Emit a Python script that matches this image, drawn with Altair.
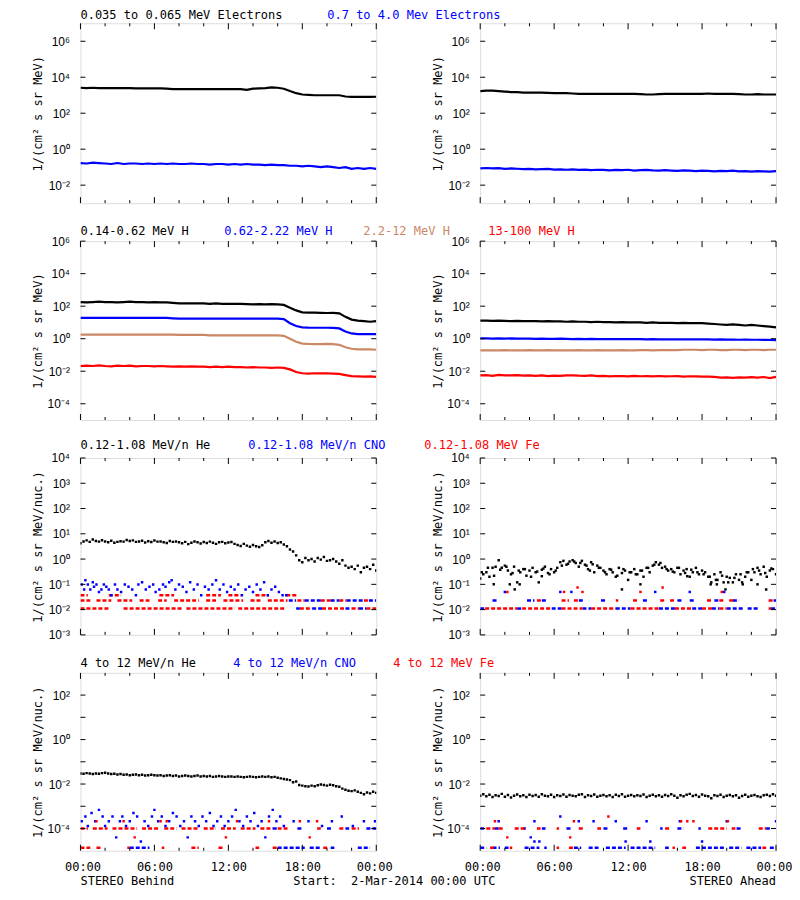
import altair as alt
import pandas as pd

# ---------------------------------------------------------------- data
# 30-minute samples, 00:00 .. 24:00 (49 values)
E_LO_BEHIND = [2.6e3,2.5e3,2.6e3,2.5e3,2.5e3,2.5e3,2.5e3,2.5e3,2.5e3,2.4e3,
               2.4e3,2.4e3,2.4e3,2.4e3,2.3e3,2.2e3,2.2e3,2.2e3,2.2e3,2.2e3,
               2.2e3,2.2e3,2.2e3,2.2e3,2.2e3,2.2e3,2.2e3,2.0e3,2.3e3,2.4e3,
               2.5e3,2.7e3,2.6e3,2.3e3,1.7e3,1.3e3,1.1e3,1.05e3,1.0e3,1.0e3,
               1.0e3,1.0e3,1.0e3,8.5e2,8.0e2,8.0e2,8.0e2,8.0e2,8.2e2]
E_HI_BEHIND = [0.17,0.16,0.18,0.17,0.16,0.15,0.17,0.15,0.16,0.16,
               0.15,0.16,0.15,0.16,0.15,0.16,0.15,0.15,0.16,0.15,
               0.15,0.14,0.15,0.15,0.14,0.15,0.14,0.15,0.14,0.14,
               0.13,0.14,0.13,0.13,0.12,0.12,0.11,0.12,0.11,0.10,
               0.11,0.10,0.09,0.10,0.08,0.09,0.08,0.09,0.08]
E_LO_AHEAD = [1.7e3,1.8e3,1.8e3,1.7e3,1.6e3,1.5e3,1.5e3,1.4e3,1.4e3,1.4e3,
              1.4e3,1.35e3,1.3e3,1.3e3,1.3e3,1.25e3,1.2e3,1.2e3,1.2e3,1.2e3,
              1.2e3,1.2e3,1.2e3,1.2e3,1.2e3,1.2e3,1.15e3,1.1e3,1.1e3,1.15e3,
              1.2e3,1.2e3,1.2e3,1.2e3,1.2e3,1.2e3,1.2e3,1.25e3,1.2e3,1.2e3,
              1.2e3,1.2e3,1.15e3,1.1e3,1.1e3,1.15e3,1.1e3,1.1e3,1.1e3]
E_HI_AHEAD = [0.085,0.09,0.085,0.088,0.08,0.085,0.082,0.078,0.08,0.075,
              0.078,0.08,0.074,0.076,0.072,0.075,0.07,0.073,0.068,0.072,
              0.07,0.066,0.07,0.068,0.072,0.065,0.068,0.07,0.066,0.064,
              0.068,0.065,0.062,0.066,0.064,0.06,0.064,0.062,0.058,0.062,
              0.06,0.064,0.058,0.06,0.056,0.06,0.058,0.056,0.06]

H1_BEHIND = [180,170,180,190,180,180,170,180,190,180,
             180,170,180,170,170,160,150,150,150,150,
             150,140,150,140,140,140,140,135,130,135,
             130,135,130,120,80,55,42,40,40,39,
             38,39,36,22,15,13,12,11,12]
H2_BEHIND = [19,19,19,19,19,19,19,19,19,19,
             19,19,19,19,19,18,17,17,17,17,
             17,17,17,17,17,17,17,17,17,17,
             17,17,17,16,9,6,5,4.8,4.7,4.7,
             4.7,4.6,4.3,2.8,2.1,1.9,1.9,1.9,1.9]
H3_BEHIND = [1.8,1.8,1.8,1.8,1.8,1.8,1.8,1.8,1.8,1.8,
             1.8,1.8,1.8,1.8,1.8,1.8,1.7,1.7,1.7,1.7,
             1.7,1.6,1.6,1.6,1.6,1.6,1.6,1.6,1.6,1.6,
             1.6,1.6,1.6,1.5,1.0,0.65,0.5,0.48,0.47,0.47,
             0.48,0.47,0.42,0.3,0.24,0.22,0.22,0.22,0.21]
H4_BEHIND = [0.021,0.022,0.021,0.023,0.021,0.020,0.022,0.021,0.022,0.020,
             0.021,0.021,0.020,0.021,0.020,0.019,0.020,0.019,0.020,0.019,
             0.019,0.018,0.019,0.018,0.019,0.018,0.018,0.017,0.018,0.017,
             0.017,0.016,0.017,0.016,0.013,0.009,0.0075,0.0072,0.0075,0.0073,
             0.0075,0.0072,0.0068,0.0058,0.005,0.0048,0.0046,0.0048,0.0045]
H1_AHEAD = [13,13,12.5,13,12.5,12,12.5,12,12,12,
            11.5,12,11.5,11.5,11,11.5,11,11,10.5,11,
            10.5,10.5,10,10.5,10,10,10,9.5,10,9.5,
            9.5,9.5,9,9.5,9,9,9,8.5,8,7.5,
            7,7.5,7,6.5,7,6.5,6,5.5,5]
H2_AHEAD = [1.05,1.05,1.0,1.05,1.0,1.05,1.0,1.0,1.0,0.98,
            1.0,0.98,0.98,1.0,0.98,0.95,0.98,0.95,0.98,0.95,
            0.95,0.95,0.93,0.95,0.93,0.95,0.93,0.92,0.93,0.92,
            0.92,0.9,0.92,0.9,0.92,0.9,0.9,0.9,0.88,0.9,
            0.88,0.88,0.86,0.88,0.86,0.86,0.85,0.84,0.82]
H3_AHEAD = [0.19,0.19,0.19,0.19,0.2,0.19,0.19,0.19,0.2,0.19,
            0.19,0.2,0.19,0.19,0.19,0.19,0.2,0.19,0.19,0.2,
            0.19,0.19,0.19,0.2,0.19,0.19,0.2,0.2,0.19,0.2,
            0.2,0.2,0.2,0.21,0.21,0.21,0.2,0.21,0.21,0.2,
            0.2,0.21,0.21,0.2,0.21,0.21,0.2,0.21,0.21]
H4_AHEAD = [0.0055,0.0058,0.0052,0.006,0.0056,0.0055,0.0058,0.0054,0.0056,0.0052,
            0.0055,0.005,0.0054,0.0052,0.0055,0.0056,0.0053,0.0052,0.0055,0.005,
            0.0052,0.0048,0.0051,0.005,0.0048,0.0052,0.0049,0.005,0.0048,0.0051,
            0.0048,0.0049,0.005,0.0047,0.0049,0.0048,0.0046,0.0047,0.0045,0.004,
            0.0042,0.0039,0.0042,0.004,0.0043,0.0041,0.0044,0.0038,0.0045]

# 15-minute samples, 00:00 .. 24:00 (97 values)
HE_LOW_BEHIND = [4.2,5.0,5.5,4.8,6.0,5.2,4.9,5.6,5.0,4.6,5.3,4.4,4.8,5.1,4.9,5.7,5.2,5.5,4.8,5.0,
                 5.3,4.5,5.1,4.7,5.4,4.9,5.0,4.6,4.3,5.2,4.8,5.0,4.6,4.2,4.8,3.9,4.4,5.0,4.6,4.1,
                 4.7,4.3,4.9,4.4,4.0,4.6,4.8,4.2,4.5,
                 4.7,4.0,3.6,3.3,4.0,3.4,3.1,3.6,3.2,3.0,3.5,4.6,5.2,4.4,5.0,4.3,4.6,3.8,
                 3.2,2.4,2.0,1.4,0.9,0.75,1.1,0.9,1.0,0.8,1.1,0.95,1.2,0.85,0.9,
                 1.0,0.8,0.65,0.9,0.55,0.45,0.5,0.4,0.55,0.3,0.45,0.5,0.4,0.6,0.35]
HE_LOW_AHEAD = [0.17,0.25,0.3,0.2,0.45,0.5,0.9,0.45,0.55,0.35,0.25,0.5,0.12,0.3,0.4,0.22,0.35,0.45,0.3,0.12,
                0.38,0.5,0.28,0.4,0.3,0.45,
                0.75,0.85,0.6,0.8,0.9,0.7,0.5,0.85,0.6,0.4,0.75,0.3,0.55,0.45,
                0.35,0.25,0.4,0.3,0.2,0.45,0.28,0.35,0.15,0.3,0.4,0.25,0.35,0.2,0.45,0.3,
                0.55,0.75,0.6,0.45,0.5,0.35,
                0.4,0.3,0.45,0.25,0.35,0.4,0.2,0.3,0.45,0.25,0.35,0.3,
                0.2,0.12,0.25,0.15,0.3,0.12,0.2,0.18,0.12,0.25,0.15,0.12,0.2,0.3,0.15,
                0.3,0.45,0.25,0.5,0.2,0.35,0.4,0.25]
# second sampling of the same channel, 00:07 + 30 min steps (48 values)
HE_LOW_AHEAD_B = [0.3,0.45,0.22,0.38,0.5,0.28,0.35,0.4,0.2,0.32,0.42,0.25,0.35,0.55,0.65,0.8,
                  0.7,0.55,0.62,0.45,0.3,0.38,0.22,0.4,0.3,0.25,0.35,0.45,0.6,0.7,0.4,0.32,
                  0.45,0.28,0.38,0.3,0.25,0.2,0.15,0.22,0.12,0.18,0.25,0.3,0.4,0.35,0.28,0.42]
HE_LOW_AHEAD_EXTRA_T = [1.1, 2.4, 2.8, 3.2, 5.0, 8.9, 11.5, 13.0, 16.8, 18.7, 19.2, 19.9, 21.3, 22.5, 23.2]
HE_LOW_AHEAD_EXTRA_V = [0.1, 0.1, 0.063, 0.1, 0.21, 0.35, 0.063, 0.1, 0.21, 0.1, 0.1, 0.063, 0.1, 0.1, 0.063]
HE_HIGH_BEHIND = [0.030,0.029,0.031,0.030,0.028,0.030,0.029,0.031,0.032,0.030,
                  0.028,0.029,0.027,0.028,0.026,0.027,0.025,0.026,0.027,0.025,
                  0.026,0.024,0.025,0.026,0.025,0.024,0.025,0.023,0.024,0.025,
                  0.023,0.024,0.022,0.023,0.024,0.023,0.022,0.023,0.024,0.022,
                  0.023,0.022,0.023,0.021,0.022,0.023,0.022,0.021,0.022,
                  0.022,0.021,0.022,0.021,0.020,0.021,0.022,0.021,0.020,0.021,
                  0.022,0.021,0.022,0.020,0.021,0.019,0.018,0.017,
                  0.016,0.015,0.012,0.013,0.009,0.0085,0.008,0.0078,0.0085,0.008,
                  0.0088,0.0095,0.009,0.0085,0.0092,0.0088,0.008,0.0075,0.0062,0.0055,
                  0.005,0.0048,0.0052,0.0045,0.004,0.0035,0.0042,0.0038,0.0045,0.004]
HE_HIGH_AHEAD = [0.0030,0.0035,0.0028,0.0033,0.0026,0.0031,0.0029,0.0036,0.0027,0.0032,
                 0.0025,0.0030,0.0034,0.0028,0.0031,0.0026,0.0033,0.0029,0.0032,0.0027,
                 0.0035,0.0030,0.0028,0.0033,0.0026,0.0031,0.0029,0.0034,0.0027,0.0032,
                 0.0030,0.0028,0.0033,0.0035,0.0026,0.0031,0.0029,0.0034,0.0027,0.0030,
                 0.0032,0.0028,0.0031,0.0026,0.0033,0.0029,0.0035,0.0027,0.0030,0.0032,
                 0.0028,0.0031,0.0029,0.0034,0.0026,0.0030,0.0033,0.0028,0.0031,0.0027,
                 0.0032,0.0029,0.0035,0.0030,0.0024,0.0031,0.0028,0.0033,0.0036,0.0029,
                 0.0032,0.0027,0.0034,0.0030,0.0028,0.0023,0.0031,0.0029,0.0033,0.0026,
                 0.0030,0.0032,0.0028,0.0031,0.0024,0.0029,0.0033,0.0027,0.0030,0.0032,
                 0.0028,0.0026,0.0031,0.0033,0.0029,0.0035,0.0030]

# scattered CNO samples (hour, value)
CNO_LOW_BEHIND_T = [0.1,0.3,0.4,0.6,0.8,1.0,1.1,1.3,1.5,1.7,1.9,2.1,2.3,2.5,2.8,3.0,3.3,3.6,3.9,4.2,
                    4.5,4.7,5.0,5.3,5.6,5.9,6.1,6.4,6.7,6.9,7.2,7.4,7.7,8.0,8.3,8.6,8.9,9.2,9.5,9.8,
                    10.1,10.4,10.7,11.0,11.3,11.6,11.9,12.2,12.5,12.8,13.1,13.4,13.7,14.0,14.3,14.6,
                    14.9,15.2,15.5,15.8,16.1,16.4,16.7]
CNO_LOW_BEHIND_V = [0.098,0.062,0.145,0.098,0.062,0.12,0.08,0.098,0.05,0.062,
                    0.098,0.08,0.062,0.037,0.098,0.062,0.05,0.098,0.08,0.062,
                    0.037,0.098,0.12,0.062,0.08,0.098,0.05,0.062,0.098,0.08,
                    0.12,0.145,0.062,0.098,0.08,0.05,0.12,0.062,0.098,0.037,
                    0.08,0.062,0.098,0.145,0.062,0.098,0.05,0.08,0.062,0.098,
                    0.037,0.062,0.08,0.05,0.098,0.062,0.12,0.037,0.062,0.08,
                    0.05,0.037,0.037]
CNO_HIGH_BEHIND_T = [0.1,0.4,0.6,0.9,1.2,1.5,1.8,2.0,2.3,2.6,2.9,3.2,3.4,3.7,4.0,4.3,4.6,4.9,5.2,5.5,
                     5.8,6.0,6.3,6.6,6.9,7.2,7.5,7.8,8.1,8.4,8.7,9.0,9.3,9.6,9.9,10.2,10.5,10.8,11.1,11.4,
                     11.7,12.0,12.3,12.6,12.9,13.2,13.5,13.8,14.1,14.4,14.7,15.0,15.3,15.6,15.9,16.2,16.5,
                     17.3,18.5,19.6,20.4,21.2,22.1,23.0,23.9]
CNO_HIGH_BEHIND_V = [2.1e-4,3.5e-4,1.3e-4,5e-4,2.1e-4,6.9e-4,3.5e-4,1.3e-4,2.1e-4,3.5e-4,
                     4e-5,2.1e-4,3.5e-4,1.3e-4,2.1e-4,5e-4,3.5e-4,2.6e-5,2.1e-4,1.3e-4,
                     3.5e-4,6.9e-4,2.1e-4,3.5e-4,1.3e-4,2.1e-4,5e-4,3.5e-4,1.3e-4,2.1e-4,
                     4e-5,3.5e-4,2.1e-4,1.3e-4,3.5e-4,2.1e-4,5e-4,1.3e-4,2.1e-4,3.5e-4,
                     1.3e-4,2.1e-4,3.5e-4,6.9e-4,2.1e-4,1.3e-4,3.5e-4,2.1e-4,5e-4,1.3e-4,
                     2.1e-4,4e-5,3.5e-4,6.9e-4,2.1e-4,3.5e-4,1.3e-4,2.1e-4,2.1e-4,1.3e-4,
                     2.1e-4,3.5e-4,1.3e-4,2.1e-4,2.1e-4]

# count-limited levels: runs of consecutive samples (start hour, end hour) per (species, level)
RUNS_LOW_BEHIND = {
    ("Fe", 0.011): [[0,2.3],[3.5,8.2],[8.6,12.5],[12.8,16.6],[17.8,18.8],[19.6,21.5],[22.0,22.6],[23.2,24]],
    ("CNO", 0.011): [[17.5,17.8],[18.8,19.6],[21.5,22.0],[22.6,23.2]],
    ("Fe", 0.023): [[0,0.8],[1.3,2.5],[3.0,4.2],[4.8,5.6],[6.3,7.0],[7.6,9.6],[10.2,11.0],[11.6,13.2],
                    [13.8,14.6],[15.2,16.8],[17.6,18.2],[19.5,20.3],[21.0,21.6],[23.0,23.4]],
    ("CNO", 0.023): [[16.9,17.5],[18.2,19.5],[20.3,21.0],[21.6,23.0],[23.4,24]],
    ("Fe", 0.037): [[0,0.6],[2.3,3.3],[6.4,7.6],[10.2,11.4],[12.0,13.0],[14.2,15.3],[16.7,17.6]],
}
RUNS_LOW_AHEAD = {
    ("CNO", 0.011): [[0,0.4],[3.0,3.4],[5.8,6.6],[8.3,9.0],[11.0,12.2],[14.5,15.8],[17.2,18.0],
                     [18.8,19.4],[20.0,21.3],[21.7,22.6],[23.6,24]],
    ("Fe", 0.011): [[0.4,3.0],[3.4,5.8],[6.6,8.3],[9.0,11.0],[12.2,14.5],[15.8,17.2],[18.0,18.8],
                    [19.4,20.0],[23.4,23.6]],
    ("CNO", 0.023): [[1.0,1.4],[3.8,4.4],[5.0,5.4],[8.0,8.4],[9.8,10.2],[13.2,13.6],[16.0,16.4],
                     [17.0,17.4],[19.0,19.4],[20.5,21.0],[23.8,24]],
    ("Fe", 0.023): [[4.6,5.0],[6.6,7.2],[7.6,8.0],[11.0,11.2],[12.4,12.8],[14.6,15.0],[15.4,15.8],
                    [18.4,18.8],[19.4,19.8],[20.2,20.6],[23.4,23.8]],
}
RUNS_HIGH_BEHIND = {
    ("Fe", 1.0e-4): [[0,0.6],[1.0,2.2],[2.6,4.6],[5.0,6.4],[6.8,7.8],[8.2,9.6],[10.0,11.0],[11.4,12.6],
                     [13.0,14.2],[14.6,15.6],[16.0,16.8],[19.2,19.5],[21.0,21.5],[22.0,22.6]],
    ("CNO", 1.0e-4): [[15.6,16.0],[17.6,18.0],[20.0,20.4],[21.5,21.8],[23.2,24]],
    ("Fe", 1.35e-5): [[0,0.8],[1.3,1.7],[3.8,4.0],[6.6,6.8],[9.0,9.6],[11.2,11.6],[14.2,14.5],
                      [15.6,16.0],[19.7,20.0]],
    ("CNO", 1.35e-5): [[4.0,5.6],[16.0,18.2],[18.6,19.5],[20.3,20.6],[22.5,23.5]],
}
RUNS_HIGH_AHEAD = {
    ("CNO", 1.0e-4): [[0,0.5],[1.2,1.5],[3.5,3.7],[5.0,5.3],[7.0,7.4],[10.0,10.4],[11.6,12.0],
                      [14.6,14.8],[16.0,16.5],[17.7,17.9],[20.8,21.2],[23.2,23.5]],
    ("Fe", 1.0e-4): [[0.5,1.2],[1.5,1.9],[2.8,3.6],[4.6,4.9],[6.2,6.4],[8.0,8.4],[9.5,9.8],
                     [12.7,13.0],[15.0,15.4],[18.5,20.0],[20.4,20.7],[22.6,23.2]],
    ("CNO", 1.35e-5): [[0,0.5],[1.0,1.6],[2.0,2.3],[3.6,4.8],[5.2,5.4],[7.6,8.2],[8.8,9.6],
                       [10.2,11.8],[12.2,14.2],[15.0,15.3],[17.5,19.8],[20.2,21.2],[21.6,22.8],[23.5,24]],
    ("Fe", 1.35e-5): [[0.8,1.1],[2.4,2.6],[6.2,6.4],[7.2,7.6],[15.6,15.8],[16.4,16.7],[22.9,23.2]],
}
# isolated samples at a level: hours per (species, level)
SINGLES_LOW_AHEAD = {
    ("CNO", 0.05): [2.0, 6.5, 7.4, 14.2, 17.0, 19.8],
    ("Fe", 0.05): [2.2, 6.8, 8.3, 13.0, 19.6],
    ("Fe", 0.075): [7.9, 14.8],
}
SINGLES_HIGH_BEHIND = {
    ("Fe", 2.1e-4): [1.3, 3.5, 6.5, 7.0, 12.7, 15.3, 17.8, 19.2],
    ("Fe", 4.0e-5): [4.4, 11.8, 18.6],
}
SINGLES_HIGH_AHEAD = {
    ("CNO", 2.1e-4): [1.5, 4.4, 8.0, 9.2, 11.0, 13.5, 16.2, 20.0, 24.0],
    ("CNO", 3.5e-4): [6.5],
    ("CNO", 4.0e-5): [4.1],
    ("CNO", 2.6e-5): [4.4, 4.8, 11.8, 13.8, 18.0],
    ("Fe", 2.1e-4): [1.2, 7.6, 16.3, 16.8, 17.3, 20.1],
    ("Fe", 3.5e-4): [10.4],
    ("Fe", 4.0e-5): [2.2, 7.3],
}

ROW_TITLES = [
    [("0.035 to 0.065 MeV Electrons", "E_lo"), ("0.7 to 4.0 Mev Electrons", "E_hi")],
    [("0.14-0.62 MeV H", "H1"), ("0.62-2.22 MeV H", "H2"), ("2.2-12 MeV H", "H3"), ("13-100 MeV H", "H4")],
    [("0.12-1.08 MeV/n He", "He"), ("0.12-1.08 MeV/n CNO", "CNO"), ("0.12-1.08 MeV Fe", "Fe")],
    [("4 to 12 MeV/n He", "He"), ("4 to 12 MeV/n CNO", "CNO"), ("4 to 12 MeV Fe", "Fe")],
]
Y_TITLES = ["1/(cm² s sr MeV)", "1/(cm² s sr MeV)", "1/(cm² s sr MeV/nuc.)", "1/(cm² s sr MeV/nuc.)"]
X_TICK_LABELS = ["00:00", "06:00", "12:00", "18:00", "00:00"]
FOOTER_LEFT = "STEREO Behind"
FOOTER_MID = "Start:\u00a0\u00a02-Mar-2014 00:00 UTC"
FOOTER_RIGHT = "STEREO Ahead"

# ---------------------------------------------------------------- styling / layout
SERIES_COLORS = {"E_lo": "#000000", "E_hi": "#0000ff", "H1": "#000000", "H2": "#0000ff",
                 "H3": "#cc8866", "H4": "#ff0000", "He": "#000000", "CNO": "#0000ff", "Fe": "#ff0000"}
MONO = "DejaVu Sans Mono"
LBL = "Liberation Sans"
W = 296
HEIGHTS = [180, 179, 177, 178]
Y_DOMAINS = [(1e-3, 1e7), (1e-5, 1e6), (1e-3, 1e4), (1e-5, 1e3)]
Y_LABELED = [[1e-2, 1, 1e2, 1e4, 1e6], [1e-4, 1e-2, 1, 1e2, 1e4, 1e6],
             [1e-3, 1e-2, 1e-1, 1, 1e1, 1e2, 1e3, 1e4], [1e-4, 1e-2, 1, 1e2]]
Y_TICKS = [[1e-2, 1, 1e2, 1e4, 1e6], [1e-4, 1e-2, 1, 1e2, 1e4, 1e6],
           [1e-3, 1e-2, 1e-1, 1, 1e1, 1e2, 1e3, 1e4], [1e-4, 1e-3, 1e-2, 1e-1, 1, 1e1, 1e2]]
X_MAJOR = [0, 6, 12, 18, 24]
X_MINOR = [2, 4, 8, 10, 14, 16, 20, 22]
TITLE_X = [[0, 247], [0, 144, 283, 408], [0, 168, 344], [0, 153, 313]]
TITLE_DY = [-4, -6, -9, -6]

SUPS = ["10⁻⁵", "10⁻⁴", "10⁻³", "10⁻²", "10⁻¹", "10⁰", "10¹", "10²", "10³", "10⁴", "10⁵", "10⁶", "10⁷"]
Y_LABEL_EXPR = "[" + ",".join("'%s'" % s for s in SUPS) + "][round(log(datum.value)/LN10)+5]"
X_LABEL_EXPR = "[" + ",".join("'%s'" % s for s in X_TICK_LABELS) + "][round(datum.value/6)]"

COLOR = alt.Color("s:N", scale=alt.Scale(domain=list(SERIES_COLORS.keys()),
                                         range=list(SERIES_COLORS.values())), legend=None)


def series_frame(series):
    rows = []
    for name, vals, step in series:
        for i, v in enumerate(vals):
            rows.append({"t": i * step, "v": v, "s": name})
    return pd.DataFrame(rows)


def text_layer(txt, x, y, color, align="left"):
    return alt.Chart(pd.DataFrame({"k": [0]})).mark_text(
        text=txt, align=align, baseline="alphabetic", font=MONO, fontSize=12, color=color
    ).encode(x=alt.value(x), y=alt.value(y))


def panel(row, col, lines=None, dots=None, runs=None):
    H = HEIGHTS[row]
    bottom = row == 3
    xsc = alt.Scale(domain=[0, 24], nice=False, zero=False)
    ysc = alt.Scale(type="log", domain=list(Y_DOMAINS[row]), nice=False)
    xax = alt.Axis(values=X_MAJOR, ticks=False, tickSize=0, domain=False, grid=False, title=None,
                   labelExpr=X_LABEL_EXPR, labelFont=MONO, labelFontSize=12, labelColor="black",
                   labelPadding=11, labelFlush=True, labelFlushOffset=16,
                   labelOverlap=False) if bottom else None
    yax = alt.Axis(values=Y_LABELED[row], ticks=False, tickSize=0, domain=False, grid=False,
                   title=Y_TITLES[row], titleX=-39, titleY=H / 2, titleAngle=-90,
                   titleBaseline="alphabetic", titleAlign="center", titleFont=MONO, titleFontSize=12,
                   titleFontWeight="normal", titleColor="black", labelExpr=Y_LABEL_EXPR,
                   labelFont=LBL, labelFontSize=12, labelColor="black", labelPadding=11,
                   labelOverlap=False)
    X = alt.X("t:Q", scale=xsc, axis=xax)
    Y = alt.Y("v:Q", scale=ysc, axis=yax)
    layers = []
    if lines is not None:
        layers.append(alt.Chart(lines).mark_line(strokeWidth=2.2, clip=True).encode(x=X, y=Y, color=COLOR))
    if runs is not None:
        layers.append(alt.Chart(runs).mark_rule(strokeWidth=2.5, strokeDash=[4, 2], clip=True).encode(
            x=X, x2=alt.X2("t2:Q"), y=Y, color=COLOR))
    if dots is not None:
        layers.append(alt.Chart(dots).mark_square(size=6, opacity=1, clip=True).encode(x=X, y=Y, color=COLOR))
    # inward tick marks
    yt = pd.DataFrame({"v": Y_TICKS[row]})
    layers.append(alt.Chart(yt).mark_rule(color="black").encode(y=Y, x=alt.value(0), x2=alt.value(5)))
    layers.append(alt.Chart(yt).mark_rule(color="black").encode(y=Y, x=alt.value(W), x2=alt.value(W - 5)))
    for ticks, ln in ((X_MAJOR, 6), (X_MINOR, 3)):
        xt = pd.DataFrame({"t": ticks})
        layers.append(alt.Chart(xt).mark_rule(color="black").encode(x=X, y=alt.value(H), y2=alt.value(H - ln)))
        layers.append(alt.Chart(xt).mark_rule(color="black").encode(x=X, y=alt.value(0), y2=alt.value(ln)))
    if col == 0:
        for (txt, key), xp in zip(ROW_TITLES[row], TITLE_X[row]):
            layers.append(text_layer(txt, xp, TITLE_DY[row], SERIES_COLORS[key]))
    if bottom and col == 0:
        layers.append(text_layer(FOOTER_LEFT, 0, H + 34, "black"))
        layers.append(text_layer(FOOTER_MID, 213, H + 34, "black"))
    if bottom and col == 1:
        layers.append(text_layer(FOOTER_RIGHT, W, H + 34, "black", align="right"))
    return alt.layer(*layers).properties(width=W, height=H)


def runs_frame(runs):
    rows = []
    for (sp, lvl), segs in runs.items():
        for a, b in segs:
            rows.append({"t": a, "t2": b, "v": lvl, "s": sp})
    return pd.DataFrame(rows)


def dots_frame(black_name, black_vals, extra=(), singles=None, second=None):
    rows = [{"t": i * 0.25, "v": v, "s": black_name} for i, v in enumerate(black_vals)]
    if second is not None:
        rows += [{"t": 0.125 + i * 0.5, "v": v, "s": black_name} for i, v in enumerate(second)]
    for name, ts, vs in extra:
        rows += [{"t": t, "v": v, "s": name} for t, v in zip(ts, vs)]
    if singles:
        for (sp, lvl), ts in singles.items():
            rows += [{"t": t, "v": lvl, "s": sp} for t in ts]
    return pd.DataFrame(rows)


panels = [
    panel(0, 0, lines=series_frame([("E_lo", E_LO_BEHIND, 0.5), ("E_hi", E_HI_BEHIND, 0.5)])),
    panel(0, 1, lines=series_frame([("E_lo", E_LO_AHEAD, 0.5), ("E_hi", E_HI_AHEAD, 0.5)])),
    panel(1, 0, lines=series_frame([("H1", H1_BEHIND, 0.5), ("H2", H2_BEHIND, 0.5),
                                    ("H3", H3_BEHIND, 0.5), ("H4", H4_BEHIND, 0.5)])),
    panel(1, 1, lines=series_frame([("H1", H1_AHEAD, 0.5), ("H2", H2_AHEAD, 0.5),
                                    ("H3", H3_AHEAD, 0.5), ("H4", H4_AHEAD, 0.5)])),
    panel(2, 0, runs=runs_frame(RUNS_LOW_BEHIND),
          dots=dots_frame("He", HE_LOW_BEHIND, [("CNO", CNO_LOW_BEHIND_T, CNO_LOW_BEHIND_V)])),
    panel(2, 1, runs=runs_frame(RUNS_LOW_AHEAD),
          dots=dots_frame("He", HE_LOW_AHEAD, [("He", HE_LOW_AHEAD_EXTRA_T, HE_LOW_AHEAD_EXTRA_V)],
                          SINGLES_LOW_AHEAD, second=HE_LOW_AHEAD_B)),
    panel(3, 0, runs=runs_frame(RUNS_HIGH_BEHIND),
          dots=dots_frame("He", HE_HIGH_BEHIND, [("CNO", CNO_HIGH_BEHIND_T, CNO_HIGH_BEHIND_V)],
                          SINGLES_HIGH_BEHIND)),
    panel(3, 1, runs=runs_frame(RUNS_HIGH_AHEAD),
          dots=dots_frame("He", HE_HIGH_AHEAD, (), SINGLES_HIGH_AHEAD)),
]

chart = alt.concat(*panels, columns=2, spacing={"row": 38, "column": 104}, bounds="flush").properties(
    padding={"left": 22.5, "top": 0, "right": -1, "bottom": -1}
).configure_view(stroke="black", strokeWidth=1).configure(background="white")

chart.save("out.html", embed_options={"renderer": "svg", "actions": False})
